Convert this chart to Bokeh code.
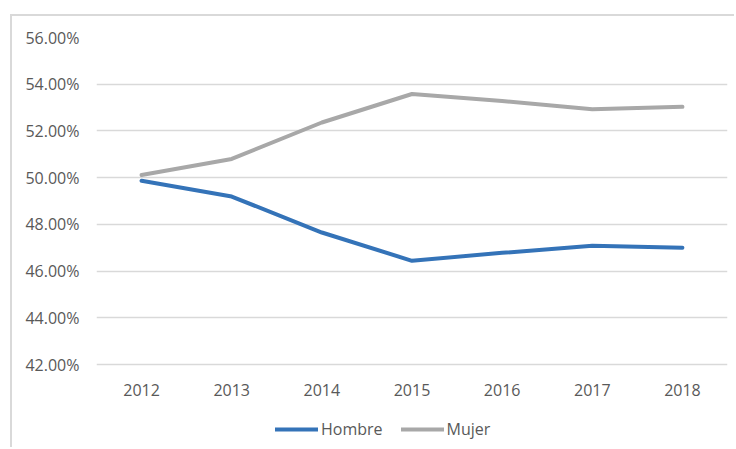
from bokeh.plotting import figure
from bokeh.models import Legend, LegendItem, PrintfTickFormatter, FixedTicker, Range1d
from bokeh.embed import file_html
from bokeh.resources import INLINE

years = ["2012", "2013", "2014", "2015", "2016", "2017", "2018"]
hombre = [49.87, 49.19, 47.65, 46.44, 46.78, 47.08, 47.00]
mujer = [50.11, 50.80, 52.36, 53.58, 53.28, 52.93, 53.03]
y_ticks = [42, 44, 46, 48, 50, 52, 54, 56]

FONT = "Open Sans"
TXT = "#595959"

# frame: 56 at y=37, 42 at y=364 -> 23.357 px per unit; frame extends to canvas bottom (85px below 42)
Y_MIN = 42 - 85 / (327 / 14)

p = figure(x_range=years, y_range=Range1d(Y_MIN, 56), width=724, height=433,
           output_backend="svg", toolbar_location=None,
           min_border_left=84, min_border_right=9, min_border_top=21, min_border_bottom=0)
p.margin = (14, 0, 0, 10)
p.styles = {"border-left": "2px solid #d9d9d9", "border-top": "2px solid #d9d9d9"}
p.outline_line_color = None
p.background_fill_color = "white"
p.border_fill_color = "white"

p.xgrid.grid_line_color = None
p.ygrid.grid_line_color = "#d9d9d9"
p.ygrid.grid_line_width = 1.3

p.yaxis.ticker = FixedTicker(ticks=y_ticks)
p.yaxis.formatter = PrintfTickFormatter(format="%.2f%%")
p.xaxis.fixed_location = 42
for ax in (p.xaxis, p.yaxis):
    ax.axis_line_color = None
    ax.major_tick_line_color = None
    ax.minor_tick_line_color = None
    ax.major_label_text_font = FONT
    ax.major_label_text_font_size = "16px"
    ax.major_label_text_color = TXT
p.yaxis.major_label_standoff = 11
p.xaxis.major_label_standoff = 13

r1 = p.line(years, hombre, line_color="#3473B8", line_width=4, line_cap="round", line_join="round")
r2 = p.line(years, mujer, line_color="#A8A8A8", line_width=4, line_cap="round", line_join="round")

legend = Legend(items=[LegendItem(label="Hombre", renderers=[r1]),
                       LegendItem(label="Mujer", renderers=[r2])],
                orientation="horizontal", location=(179, 9),
                padding=0, margin=0, spacing=18, glyph_width=43, glyph_height=20,
                label_standoff=3, border_line_color=None, background_fill_alpha=0,
                label_text_font=FONT, label_text_font_size="16px", label_text_color=TXT)
p.add_layout(legend)

open("out.html", "w").write(file_html(p, INLINE))
